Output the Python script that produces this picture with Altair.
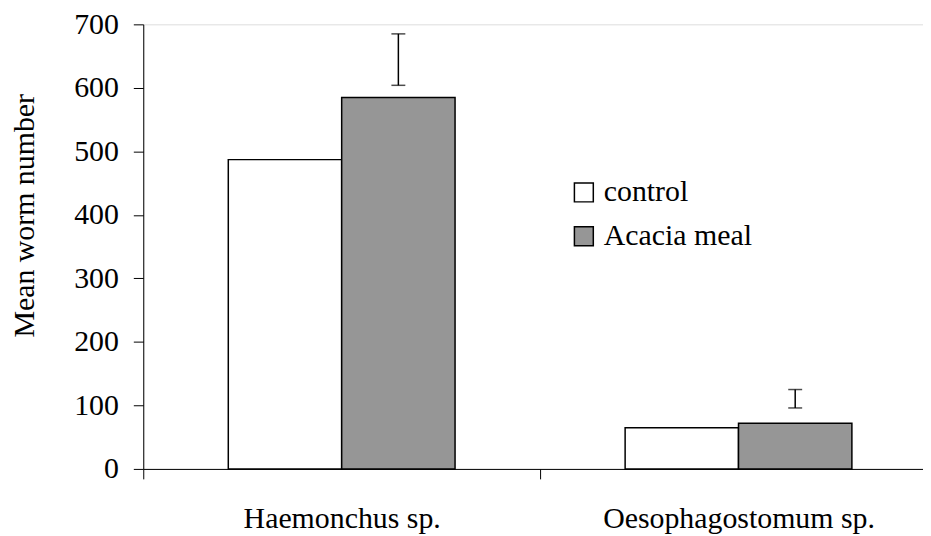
import altair as alt
import pandas as pd

species = ["Haemonchus sp.", "Oesophagostomum sp."]
groups = ["control", "Acacia meal"]
control_means = [487, 65]
acacia_means = [585, 72]
acacia_err_low = [604, 96]
acacia_err_high = [685, 125]
y_ticks = [0, 100, 200, 300, 400, 500, 600, 700]

rows = []
for i, s in enumerate(species):
    rows.append({"species": s, "group": "control", "mean": control_means[i]})
    rows.append({"species": s, "group": "Acacia meal", "mean": acacia_means[i]})
bars_df = pd.DataFrame(rows)

err_df = pd.DataFrame({
    "species": species,
    "group": ["Acacia meal"] * len(species),
    "lo": acacia_err_low,
    "hi": acacia_err_high,
})

FONT = "Liberation Serif"

x_enc = alt.X(
    "species:N",
    sort=species,
    scale=alt.Scale(domain=species, range=[0, 798], paddingInner=0, paddingOuter=0),
    axis=alt.Axis(
        title=None, labelAngle=0, tickBand="extent", tickSize=10, labelPadding=25,
        labelFontSize=30, labelFont=FONT, labelColor="black", labelLimit=0,
        domainColor="black", tickColor="black", domainWidth=1, tickWidth=1,
    ),
)
xoff_enc = alt.XOffset(
    "group:N", sort=groups,
    scale=alt.Scale(domain=groups, paddingInner=0, paddingOuter=0.75),
)
y_scale = alt.Scale(domain=[0, 700], nice=False)

bars = alt.Chart(bars_df).mark_bar(stroke="black", strokeWidth=1.5).encode(
    x=x_enc,
    xOffset=xoff_enc,
    y=alt.Y(
        "mean:Q", scale=y_scale,
        axis=alt.Axis(
            title="Mean worm number", values=y_ticks, grid=False, tickSize=10,
            labelPadding=15, labelFontSize=30, labelFont=FONT, labelColor="black",
            domainColor="black", tickColor="black",
            titleFont=FONT, titleFontSize=30, titleFontWeight="normal", titleColor="black",
            titleAngle=270, titleX=-110, titleY=192, titleAlign="center",
            titleBaseline="alphabetic",
        ),
    ),
    fill=alt.Fill(
        "group:N", sort=groups,
        scale=alt.Scale(domain=groups, range=["white", "#969696"]),
        legend=alt.Legend(
            title=None, orient="none", legendX=428, legendY=154,
            symbolType="square", symbolSize=361, symbolStrokeColor="black",
            symbolStrokeWidth=1.5, symbolOpacity=1, labelFontSize=30, labelFont=FONT,
            labelColor="black", labelOffset=5, rowPadding=14, labelLimit=0,
        ),
    ),
)

err_rule = alt.Chart(err_df).mark_rule(color="black", strokeWidth=1.5).encode(
    x=alt.X("species:N", sort=species),
    xOffset=alt.XOffset("group:N", sort=groups),
    y=alt.Y("lo:Q", scale=y_scale),
    y2="hi:Q",
)
err_lo = alt.Chart(err_df).mark_tick(color="black", thickness=1.5, size=14, orient="horizontal").encode(
    x=alt.X("species:N", sort=species),
    xOffset=alt.XOffset("group:N", sort=groups),
    y=alt.Y("lo:Q", scale=y_scale),
)
err_hi = alt.Chart(err_df).mark_tick(color="black", thickness=1.5, size=14, orient="horizontal").encode(
    x=alt.X("species:N", sort=species),
    xOffset=alt.XOffset("group:N", sort=groups),
    y=alt.Y("hi:Q", scale=y_scale),
)

chart = alt.layer(bars, err_rule, err_lo, err_hi).properties(
    width=784,
    height=447,
    autosize=alt.AutoSizeParams(type="none"),
    padding={"left": 136, "top": 15, "right": 0, "bottom": 64},
).configure_view(stroke=None).configure(background="white")

chart.save("out.html", embed_options={"renderer": "svg", "actions": False})
